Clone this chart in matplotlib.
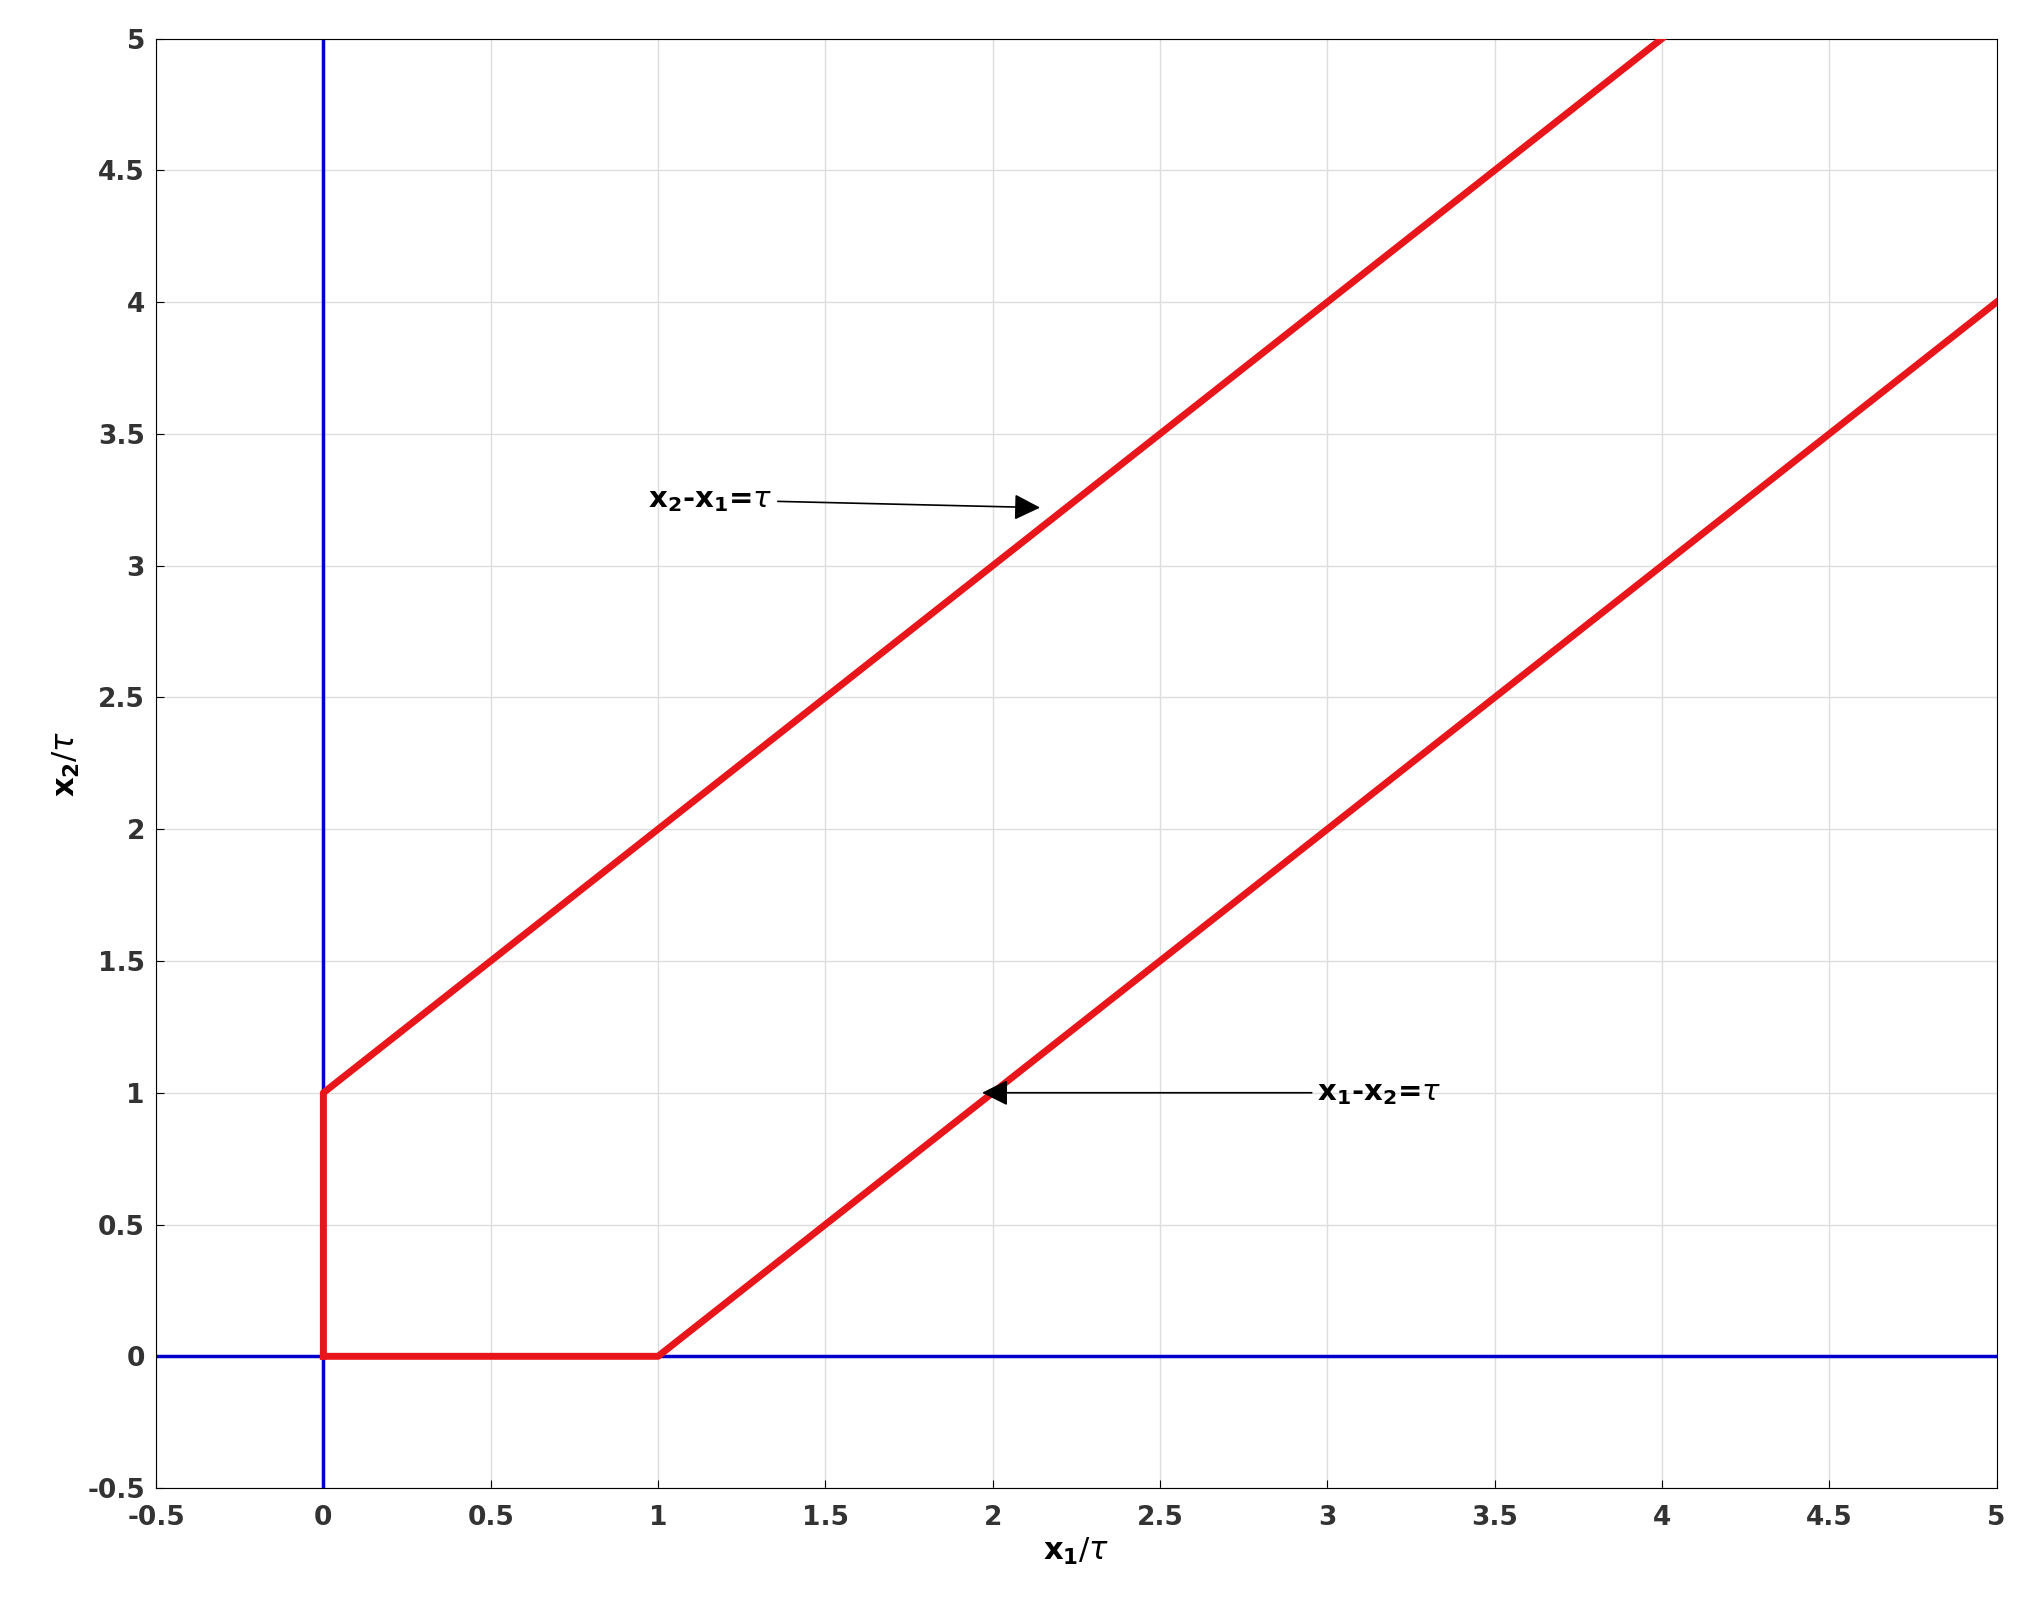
import matplotlib.pyplot as plt

# boundary curves (in units of tau)
upper_x = [0, 0, 4]
upper_y = [0, 1, 5]
lower_x = [0, 1, 5]
lower_y = [0, 0, 4]
ticks = [-0.5, 0, 0.5, 1, 1.5, 2, 2.5, 3, 3.5, 4, 4.5, 5]
tick_labels = ["-0.5", "0", "0.5", "1", "1.5", "2", "2.5", "3", "3.5", "4", "4.5", "5"]

fig = plt.figure(figsize=(20.27, 16.07), dpi=100)
ax = fig.add_axes([0.077, 0.074, 0.908, 0.902])

ax.axvline(0, color="#0000cc", linewidth=2.5, zorder=2)
ax.axhline(0, color="#0000cc", linewidth=2.5, zorder=2)
ax.plot(upper_x, upper_y, color="#e8161b", linewidth=5, zorder=3)
ax.plot(lower_x, lower_y, color="#e8161b", linewidth=5, zorder=3)

ax.set_xlim(-0.5, 5)
ax.set_ylim(-0.5, 5)
ax.set_xticks(ticks)
ax.set_xticklabels(tick_labels, fontsize=19, fontweight="bold", color="#333333")
ax.set_yticks(ticks)
ax.set_yticklabels(tick_labels, fontsize=19, fontweight="bold", color="#333333")
ax.grid(True, color="#dddddd", linewidth=1)
ax.tick_params(direction="in", length=6)
ax.tick_params(axis="x", pad=12)
ax.tick_params(axis="y", pad=8)

ax.set_xlabel(r"$\mathbf{x_1}$/$\tau$", fontsize=22)
ax.set_ylabel(r"$\mathbf{x_2}$/$\tau$", fontsize=22)

arrow = dict(arrowstyle="-|>", color="black", lw=1.2, mutation_scale=40)
ax.annotate(r"$\mathbf{x_2}$-$\mathbf{x_1}$=$\tau$", xy=(2.15, 3.22), xytext=(0.97, 3.25),
            fontsize=21, fontweight="bold", va="center", arrowprops=arrow)
ax.annotate(r"$\mathbf{x_1}$-$\mathbf{x_2}$=$\tau$", xy=(1.96, 1.0), xytext=(2.97, 1.0),
            fontsize=21, fontweight="bold", va="center", arrowprops=arrow)

fig.savefig("out.png", dpi=100)
